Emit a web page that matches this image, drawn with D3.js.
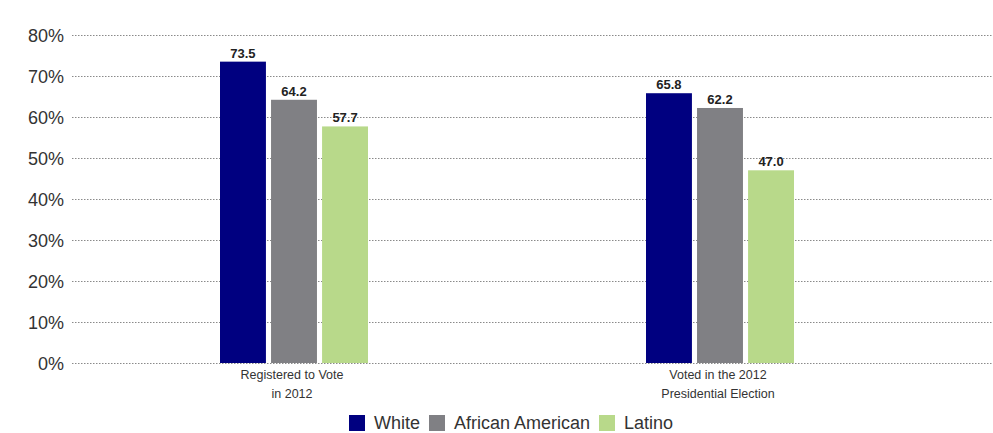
<!DOCTYPE html>
<html><head><meta charset="utf-8">
<script src="https://cdn.jsdelivr.net/npm/d3@7"></script>
<style>body{margin:0;background:#fff}svg{display:block}</style>
</head><body><svg id="c" width="993" height="433"></svg>
<script>
const categories = [["Registered to Vote","in 2012"],["Voted in the 2012","Presidential Election"]];
const seriesNames = ["White","African American","Latino"];
const white = [73.5, 65.8];
const africanAmerican = [64.2, 62.2];
const latino = [57.7, 47.0];
const yTicks = [0,10,20,30,40,50,60,70,80];
const colors = ["#000080","#808084","#b8d98a"];

const series = [white, africanAmerican, latino];
const svg = d3.select("#c");
const y = d3.scaleLinear().domain([0,80]).range([363,35]);
const x0 = d3.scaleBand().domain([0,1]).range([81,933]);
const x1 = d3.scaleBand().domain([0,1,2]).range([0,148]).paddingInner(0.1);

// grid
const grid = svg.append("g");
grid.selectAll("line").data(yTicks).join("line")
  .attr("x1",72).attr("x2",993)
  .attr("y1",d=>y(d)+0.5).attr("y2",d=>y(d)+0.5)
  .attr("stroke","#8a8a8a").attr("stroke-width",1).attr("stroke-dasharray","1.5,1.5");

const yAxis = d3.axisLeft(y).tickValues(yTicks).tickFormat(d=>d+"%").tickSize(0).tickPadding(0);
const ga = svg.append("g").attr("transform","translate(64,0)").call(yAxis);
ga.select(".domain").remove();
ga.selectAll("text").attr("font-family","Liberation Sans, Arial, sans-serif").attr("font-size",18).attr("fill","#333").attr("dy","0.35em");

// bars
categories.forEach((cat,i)=>{
  const gx = x0(i) + x0.bandwidth()/2 - 74;
  const g = svg.append("g").attr("transform",`translate(${gx},0)`);
  g.selectAll("rect").data(series.map((s,k)=>({k,v:s[i]}))).join("rect")
    .attr("x",d=>x1(d.k)).attr("width",x1.bandwidth())
    .attr("y",d=>y(d.v)).attr("height",d=>y(0)-y(d.v))
    .attr("fill",d=>colors[d.k]);
  g.selectAll("text.v").data(series.map((s,k)=>({k,v:s[i]}))).join("text")
    .attr("class","v")
    .attr("x",d=>x1(d.k)+x1.bandwidth()/2).attr("y",d=>y(d.v)-4)
    .attr("text-anchor","middle").attr("font-family","Liberation Sans, Arial, sans-serif")
    .attr("font-weight","bold").attr("font-size",13).attr("fill","#222")
    .text(d=>d.v.toFixed(1));
  const t = svg.append("text").attr("text-anchor","middle")
    .attr("font-family","Liberation Sans, Arial, sans-serif")
    .attr("font-size",12.5).attr("fill","#333");
  cat.forEach((line,j)=>t.append("tspan").attr("x",x0(i)+x0.bandwidth()/2 - 2).attr("y",379+j*19).text(line));
});

// legend
const legX = [349,429,599];
const lg = svg.append("g");
seriesNames.forEach((n,k)=>{
  lg.append("rect").attr("x",legX[k]).attr("y",415).attr("width",16).attr("height",16).attr("fill",colors[k]);
  lg.append("text").attr("x",legX[k]+25).attr("y",429).attr("font-family","Liberation Sans, Arial, sans-serif")
    .attr("font-size",18).attr("fill","#333").text(n);
});
</script></body></html>
